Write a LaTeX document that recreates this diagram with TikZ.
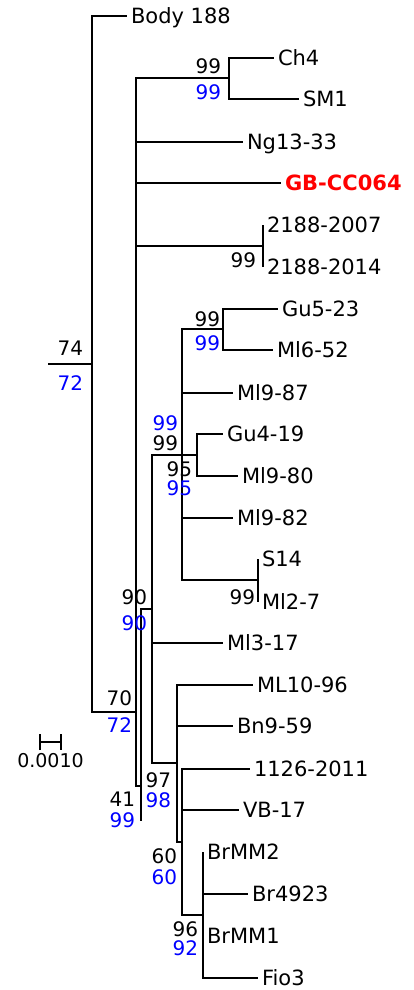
\documentclass[tikz,border=0pt]{standalone}
\usepackage{fontspec}
\setmainfont{DejaVu Sans}
\usetikzlibrary{arrows.meta}
\definecolor{bsblue}{RGB}{0,0,255}
\definecolor{hlred}{RGB}{255,0,0}

\begin{document}
\begin{tikzpicture}[x=1pt,y=-1pt,line width=2pt,
    leaf/.style={anchor=west,inner xsep=3pt,inner ysep=0pt,text height=15.3pt,text depth=0pt,font=\fontsize{21}{25}\selectfont},
    bs/.style={anchor=east,inner sep=0pt,font=\fontsize{20}{24}\selectfont},
    bsb/.style={bs,text=bsblue}]
  \useasboundingbox (0,0) rectangle (414,990);
  % internal nodes
  \coordinate (stub) at (48,364); \coordinate (root) at (92,364);
  \coordinate (a) at (136,712); \coordinate (b) at (141,786); \coordinate (bend) at (141,821);
  \coordinate (chn) at (229,78); \coordinate (n2188) at (263,246);
  \coordinate (c) at (152,609); \coordinate (e) at (182,455); \coordinate (f) at (197,455);
  \coordinate (gun) at (223,329); \coordinate (s14n) at (258,580);
  \coordinate (d) at (177,763); \coordinate (g) at (182,842); \coordinate (h) at (203,915);
  % taxa
  \node[leaf] (body) at (127,16) {Body 188};
  \node[leaf] (ch4) at (274,58) {Ch4};
  \node[leaf] (sm1) at (299,99) {SM1};
  \node[leaf] (ng) at (243,142) {Ng13-33};
  \node[leaf,text=hlred,font=\fontsize{21}{25}\selectfont\bfseries] (gb) at (281,183) {GB-CC064};
  \node[leaf] (t2007) at (263,225) {2188-2007};
  \node[leaf] (t2014) at (263,267) {2188-2014};
  \node[leaf] (gu523) at (278,309) {Gu5-23};
  \node[leaf] (ml652) at (273,350) {Ml6-52};
  \node[leaf] (ml987) at (233,393) {Ml9-87};
  \node[leaf] (gu419) at (223,434) {Gu4-19};
  \node[leaf] (ml980) at (238,476) {Ml9-80};
  \node[leaf] (ml982) at (233,518) {Ml9-82};
  \node[leaf] (s14) at (258,559) {S14};
  \node[leaf] (ml27) at (258,602) {Ml2-7};
  \node[leaf] (ml317) at (223,643) {Ml3-17};
  \node[leaf] (ml1096) at (253,685) {ML10-96};
  \node[leaf] (bn959) at (233,726) {Bn9-59};
  \node[leaf] (t1126) at (250,769) {1126-2011};
  \node[leaf] (vb17) at (239,810) {VB-17};
  \node[leaf] (brmm2) at (203,852) {BrMM2};
  \node[leaf] (br4923) at (248,894) {Br4923};
  \node[leaf] (brmm1) at (203,936) {BrMM1};
  \node[leaf] (fio3) at (258,978) {Fio3};
  % branches
  \draw (stub) -- (root); \draw (root) |- (body.west); \draw (root) |- (a);
  \draw (a) |- (chn); \draw (a) |- (ng.west); \draw (a) |- (gb.west);
  \draw (a) |- (n2188); \draw (a) |- (b);
  \draw (chn) |- (ch4.west); \draw (chn) |- (sm1.west);
  \draw (t2007.west) -- (t2014.west);
  \draw (b) |- (c); \draw (b) -- (bend);
  \draw (c) |- (e); \draw (c) |- (ml317.west); \draw (c) |- (d);
  \draw (e) |- (gun); \draw (e) |- (ml987.west); \draw (e) -- (f);
  \draw (e) |- (ml982.west); \draw (e) |- (s14n);
  \draw (gun) |- (gu523.west); \draw (gun) |- (ml652.west);
  \draw (f) |- (gu419.west); \draw (f) |- (ml980.west);
  \draw (s14.west) -- (ml27.west);
  \draw (d) |- (ml1096.west); \draw (d) |- (bn959.west); \draw (d) |- (g);
  \draw (g) |- (t1126.west); \draw (g) |- (vb17.west); \draw (g) |- (h);
  \draw (h) |- (brmm2.west); \draw (h) |- (br4923.west); \draw (h) |- (fio3.west);
  % bootstrap values
  \node[bs] (bs0k) at (84,348) {74}; \node[bsb] (bs0b) at (84,383) {72};
  \node[bs] (bs1k) at (222,66) {99}; \node[bsb] (bs1b) at (222,92) {99};
  \node[bs] (bs2k) at (257,260) {99};
  \node[bs] (bs3k) at (221,319) {99}; \node[bsb] (bs3b) at (221,343) {99};
  \node[bsb] (bs4b) at (179,423) {99}; \node[bs] (bs4k) at (179,443) {99};
  \node[bs] (bs5k) at (193,469) {95}; \node[bsb] (bs5b) at (193,488) {95};
  \node[bs] (bs6k) at (256,597) {99};
  \node[bs] (bs7k) at (148,597) {90}; \node[bsb] (bs7b) at (148,623) {90};
  \node[bs] (bs8k) at (133,698) {70}; \node[bsb] (bs8b) at (133,725) {72};
  \node[bs] (bs9k) at (172,780) {97}; \node[bsb] (bs9b) at (172,800) {98};
  \node[bs] (bs10k) at (136,799) {41}; \node[bsb] (bs10b) at (136,820) {99};
  \node[bs] (bs11k) at (178,856) {60}; \node[bsb] (bs11b) at (178,877) {60};
  \node[bs] (bs12k) at (199,929) {96}; \node[bsb] (bs12b) at (199,948) {92};
  % scale bar
  \coordinate (sbl) at (39,742); \coordinate (sbr) at (62,742);
  \draw[{Bar[width=16pt]}-{Bar[width=16pt]}] (sbl) -- (sbr);
  \node[font=\fontsize{19}{22}\selectfont,inner sep=0pt] (sbt) at (50.5,761) {0.0010};
\end{tikzpicture}
\end{document}
